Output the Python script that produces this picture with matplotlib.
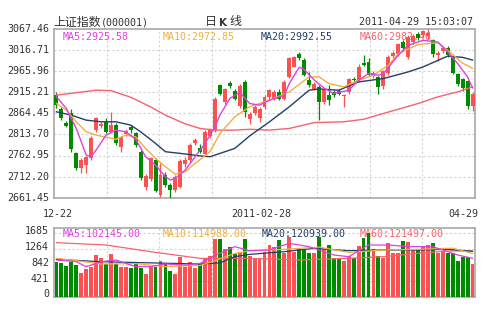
import matplotlib
matplotlib.use("Agg")
import matplotlib.pyplot as plt
import numpy as np

# ---- data ----
opens = [2908, 2876, 2841, 2864, 2768, 2732, 2740, 2758, 2824, 2833,
         2844, 2820, 2836, 2783, 2814, 2831, 2816, 2772, 2686, 2706,
         2752, 2668, 2716, 2692, 2680, 2688, 2742, 2752, 2792, 2780,
         2766, 2810, 2824, 2932, 2892, 2938, 2918, 2882, 2940, 2850,
         2864, 2852, 2880, 2904, 2900, 2916, 2900, 2952, 2977, 3007,
         2993, 2944, 2924, 2928, 2892, 2908, 2916, 2918, 2905, 2916,
         2948, 2944, 2985, 2989, 2953, 2952, 2929, 2961, 3002, 3006,
         3036, 3000, 3036, 3056, 3052, 3050, 3040, 3004, 3014, 3022,
         3002, 2958, 2946, 2942, 2882]
highs = [2916, 2880, 2847, 2876, 2772, 2756, 2762, 2810, 2856, 2843,
         2852, 2868, 2840, 2810, 2826, 2837, 2820, 2776, 2718, 2760,
         2756, 2744, 2724, 2696, 2716, 2754, 2760, 2792, 2804, 2790,
         2824, 2830, 2904, 2936, 2926, 2941, 2924, 2934, 2944, 2868,
         2884, 2880, 2908, 2924, 2920, 2922, 2944, 3000, 3003, 3012,
         2998, 2964, 2940, 2932, 2926, 2932, 2920, 2924, 2912, 2950,
         2952, 2983, 3005, 2997, 2965, 2955, 2969, 3005, 3014, 3034,
         3040, 3052, 3054, 3060, 3066, 3067.46, 3044, 3014, 3026, 3026,
         3004, 2962, 2950, 2944, 2916]
lows = [2877, 2849, 2831, 2772, 2728, 2720, 2722, 2752, 2820, 2828,
        2816, 2816, 2788, 2772, 2810, 2818, 2784, 2704, 2680, 2702,
        2675, 2664, 2688, 2661.45, 2676, 2684, 2736, 2748, 2788, 2768,
        2762, 2806, 2820, 2908, 2888, 2926, 2896, 2878, 2856, 2838,
        2860, 2844, 2876, 2900, 2896, 2896, 2896, 2950, 2975, 2992,
        2953, 2928, 2920, 2848, 2888, 2884, 2904, 2908, 2880, 2912,
        2940, 2940, 2978, 2953, 2949, 2912, 2924, 2957, 2998, 3002,
        3016, 2994, 3030, 3040, 3048, 3044, 3000, 2990, 3010, 3000,
        2958, 2930, 2918, 2876, 2870]
closes = [2884, 2853, 2835, 2778, 2732, 2752, 2760, 2806, 2852, 2839,
          2820, 2836, 2792, 2807, 2821, 2824, 2788, 2708, 2714, 2756,
          2678, 2716, 2692, 2680, 2712, 2750, 2752, 2788, 2800, 2772,
          2820, 2824, 2900, 2912, 2922, 2930, 2900, 2930, 2868, 2862,
          2880, 2876, 2904, 2920, 2916, 2900, 2940, 2997, 2999, 2997,
          2957, 2932, 2936, 2892, 2920, 2896, 2908, 2912, 2909, 2946,
          2944, 2977, 2981, 2957, 2961, 2928, 2965, 3001, 3010, 3030,
          3022, 3048, 3050, 3046, 3062, 3058, 3006, 3010, 3022, 3004,
          2962, 2934, 2926, 2882, 2912]
volumes = [932, 905, 816, 932, 843, 639, 737, 780, 1110, 1020,
           870, 1136, 870, 799, 799, 754, 932, 772, 604, 799,
           780, 958, 870, 692, 604, 1065, 799, 932, 754, 870,
           1020, 1082, 1526, 1526, 1260, 1313, 1136, 1198, 1526, 1082,
           1020, 994, 1198, 1376, 1313, 1509, 1153, 1579, 1198, 1260,
           1243, 1153, 1171, 1579, 1260, 1376, 1020, 994, 958, 1082,
           1020, 1348, 1553, 1685, 1260, 1082, 1020, 1419, 1171, 1153,
           1491, 1464, 1260, 1260, 1348, 1376, 1438, 1171, 1215, 1171,
           1153, 958, 1065, 1065, 870]

# moving averages of the index, read at sample candles
ma5_idx = [0, 2, 4, 6, 7, 8, 10, 12, 14, 16, 18, 20, 22, 23, 24, 26, 28, 30, 32, 33,
           35, 37, 39, 41, 43, 46, 47, 49, 50, 52, 54, 56, 59, 61, 63, 65, 66, 69,
           71, 74, 77, 79, 81, 83, 84]
ma5_val = [2904, 2876, 2828, 2764, 2760, 2776, 2812, 2824, 2820, 2802, 2760, 2740,
           2712, 2704, 2708, 2728, 2760, 2792, 2832, 2860, 2900, 2915, 2888, 2884,
           2896, 2908, 2936, 2975, 2970, 2945, 2925, 2912, 2920, 2944, 2960, 2956,
           2960, 3004, 3028, 3040, 3036, 3012, 2984, 2952, 2925.58]
ma10_idx = [0, 2, 4, 6, 8, 10, 12, 14, 16, 18, 20, 22, 24, 26, 28, 31, 33, 36, 39,
            43, 47, 51, 53, 55, 58, 61, 64, 67, 69, 73, 77, 79, 82, 84]
ma10_val = [2888, 2872, 2844, 2820, 2812, 2807, 2802, 2812, 2808, 2780, 2756, 2736,
            2718, 2724, 2744, 2772, 2816, 2856, 2880, 2896, 2916, 2952, 2952, 2936,
            2928, 2944, 2956, 2980, 3008, 3030, 3034, 3016, 2985, 2972.85]
ma20_idx = [0, 3, 6, 9, 12, 15, 17, 20, 22, 25, 29, 31, 33, 36, 39, 43, 47, 51, 53,
            57, 61, 66, 71, 74, 79, 82, 84]
ma20_val = [2868, 2860, 2848, 2844, 2844, 2836, 2820, 2792, 2772, 2768, 2762, 2760,
            2768, 2780, 2810, 2844, 2880, 2920, 2923, 2920, 2940, 2948, 2964, 2976,
            3002, 2999, 2992.55]
ma60_idx = [0, 4, 8, 11, 15, 19, 22, 26, 29, 32, 36, 39, 43, 47, 52, 58, 62, 66, 73,
            77, 81, 84]
ma60_val = [2908, 2914, 2920, 2919, 2903, 2880, 2860, 2839, 2828, 2824, 2824, 2826,
            2824, 2828, 2842, 2844, 2850, 2864, 2888, 2904, 2916, 2928]

# moving averages of volume, read at sample bars
vma5_idx = [0, 4, 6, 9, 12, 16, 19, 22, 26, 29, 32, 36, 39, 43, 47, 51, 56, 59, 63,
            67, 71, 76, 81, 84]
vma5_val = [976, 931, 798, 931, 976, 798, 798, 869, 843, 887, 1100, 1331, 1224, 1242,
            1419, 1331, 1109, 1064, 1375, 1375, 1331, 1331, 1109, 1021]
vma10_idx = [0, 4, 9, 16, 22, 29, 32, 36, 39, 46, 53, 59, 66, 73, 80, 84]
vma10_val = [1020, 958, 869, 880, 800, 830, 960, 1150, 1220, 1260, 1320, 1180, 1240,
             1260, 1290, 1150]
vma20_idx = [0, 9, 19, 29, 33, 36, 39, 46, 52, 59, 66, 73, 79, 84]
vma20_val = [993, 931, 900, 869, 900, 1064, 1126, 1197, 1286, 1224, 1242, 1242, 1260,
             1209]
vma60_idx = [0, 10, 19, 29, 36, 39, 49, 59, 66, 73, 79, 84]
vma60_val = [1437, 1375, 1197, 1020, 1020, 1020, 976, 1020, 1064, 1153, 1215, 1215]

price_ticks = ["2661.45", "2712.20", "2762.95", "2813.70", "2864.45",
               "2915.21", "2965.96", "3016.71", "3067.46"]
vol_ticks = ["0", "421", "842", "1264", "1685"]
date_labels = ["12-22", "2011-02-28", "04-29"]

RED = "#fa5252"
GREEN = "#008a00"
C5, C10, C20, C60 = "#e040e0", "#f0b040", "#233f68", "#f4646e"
MONO = "DejaVu Sans Mono"
TXT = "#333333"

W, H = 499, 326
fig = plt.figure(figsize=(W / 100, H / 100), dpi=100)


def px_axes(left, top, right, bottom):
    return fig.add_axes([left / W, 1 - bottom / H, (right - left) / W, (bottom - top) / H])


ax = px_axes(54, 28.9, 475, 197.7)
axv = px_axes(54, 227.7, 475, 296.7)

n = len(closes)
x = np.arange(n)
pmin, pmax = 2661.45, 3067.46
vmax = 1685

for a in (ax, axv):
    a.set_xlim(-0.5, n - 0.5)
    a.set_xticks([])
    a.set_yticks([])
    for s in a.spines.values():
        s.set_color("#a8a8a8")
        s.set_linewidth(1.2)
    for k in range(1, 8):
        a.axvline(-0.5 + n * k / 8, color="#d4d4d4", lw=0.8, ls=(0, (2, 2)), zorder=0)

ax.set_ylim(pmin, pmax)
axv.set_ylim(0, 1835)

# price grid + labels
pvals = np.linspace(pmin, pmax, 9)
for v, lab in zip(pvals, price_ticks):
    if pmin < v < pmax:
        ax.axhline(v, color="#d4d4d4", lw=0.8, ls=(0, (2, 2)), zorder=0)
    ax.text(-0.012, v, lab, transform=ax.get_yaxis_transform(), ha="right", va="center",
            fontsize=7.2, family=MONO, color=TXT)

vvals = np.linspace(0, vmax, 5)
for v, lab in zip(vvals, vol_ticks):
    if 0 < v:
        axv.axhline(v, color="#d4d4d4", lw=0.8, ls=(0, (2, 2)), zorder=0)
    axv.text(-0.012, v + 60, lab, transform=axv.get_yaxis_transform(), ha="right",
             va="center", fontsize=7.2, family=MONO, color=TXT)


def ftext(px, py, s, target=fig, **kw):
    kw.setdefault("fontsize", 7.2)
    kw.setdefault("family", MONO)
    target.text(px / W, 1 - py / H, s, va="center", transform=fig.transFigure, **kw)


# MA legends sit under the candles, as in the reference
ftext(63, 36.7, "MA5:2925.58", target=ax, color=C5, zorder=2)
ftext(163, 36.7, "MA10:2972.85", target=ax, color=C10, zorder=2)
ftext(261, 36.7, "MA20:2992.55", target=ax, color=C20, zorder=2)
ftext(360, 36.7, "MA60:2982.46", target=ax, color=C60, zorder=2)
ftext(63, 234, "MA5:102145.00", target=axv, color=C5, zorder=2)
ftext(163, 234, "MA10:114988.00", target=axv, color=C10, zorder=2)
ftext(262, 234, "MA20:120939.00", target=axv, color=C20, zorder=2)
ftext(360, 234, "MA60:121497.00", target=axv, color=C60, zorder=2)

# candles
o = np.array(opens, float)
c = np.array(closes, float)
hi = np.array(highs, float)
lo = np.array(lows, float)
up = c >= o
cols = np.where(up, RED, GREEN)
ax.vlines(x, lo, hi, colors=cols, lw=0.9, zorder=3)
body_h = np.maximum(np.abs(c - o), 2.0)
ax.bar(x, body_h, bottom=np.minimum(o, c), width=0.8, color=cols, linewidth=0, zorder=4)

ax.plot(ma60_idx, ma60_val, color=C60, lw=1.0, zorder=5)
ax.plot(ma20_idx, ma20_val, color=C20, lw=1.0, zorder=5)
ax.plot(ma10_idx, ma10_val, color=C10, lw=1.0, zorder=5)
ax.plot(ma5_idx, ma5_val, color=C5, lw=1.0, zorder=5)

# volume bars
axv.bar(x, volumes, width=0.78, color=cols, linewidth=0, zorder=3)
axv.plot(vma60_idx, vma60_val, color=C60, lw=0.9, zorder=5)
axv.plot(vma20_idx, vma20_val, color=C20, lw=0.9, zorder=5)
axv.plot(vma10_idx, vma10_val, color=C10, lw=0.9, zorder=5)
axv.plot(vma5_idx, vma5_val, color=C5, lw=0.9, zorder=5)

# headers
ftext(53, 22, "上证指数", family="Noto Sans CJK SC", fontsize=8.6, color=TXT)
ftext(101, 22.5, "(000001)", color=TXT)
ftext(205, 22, "日", family="Noto Sans CJK SC", fontsize=8.6, color=TXT)
ftext(219, 22.5, "K", family="DejaVu Sans", fontweight="bold", fontsize=7.5, color=TXT)
ftext(229, 22, "线", family="Noto Sans CJK SC", fontsize=8.6, color=TXT)
ftext(473, 21.7, "2011-04-29 15:03:07", ha="right", color=TXT)

# date labels
ftext(58, 214, date_labels[0], ha="center", color=TXT)
ftext(261, 214, date_labels[1], ha="center", color=TXT)
ftext(463.5, 214, date_labels[2], ha="center", color=TXT)

fig.savefig("out.png", dpi=100, facecolor="white")
